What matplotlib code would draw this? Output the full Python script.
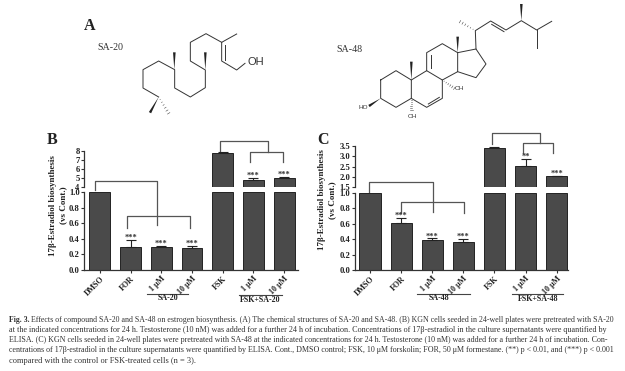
import numpy as np
import matplotlib
matplotlib.use("Agg")
from matplotlib import pyplot as plt
from matplotlib.patches import Polygon

W, H = 625, 371
SERIF = "Liberation Serif"

groups = ["DMSO", "FOR", "1 μM", "10 μM", "FSK", "1 μM", "10 μM"]
values_b = [1.0, 0.30, 0.29, 0.285, 7.85, 4.75, 5.05]
errors_b = [0.0, 0.085, 0.025, 0.025, 0.05, 0.25, 0.1]
stars_b = ["", "***", "***", "***", "", "***", "***"]

values_c = [1.0, 0.61, 0.385, 0.36, 3.4, 2.52, 2.03]
errors_c = [0.0, 0.06, 0.025, 0.04, 0.06, 0.37, 0.04]
stars_c = ["", "***", "***", "***", "", "**", "***"]

caption = [
    "Effects of compound SA-20 and SA-48 on estrogen biosynthesis. (A) The chemical structures of SA-20 and SA-48. (B) KGN cells seeded in 24-well plates were pretreated with SA-20",
    "at the indicated concentrations for 24 h. Testosterone (10 nM) was added for a further 24 h of incubation. Concentrations of 17β-estradiol in the culture supernatants were quantified by",
    "ELISA. (C) KGN cells seeded in 24-well plates were pretreated with SA-48 at the indicated concentrations for 24 h. Testosterone (10 nM) was added for a further 24 h of incubation. Con-",
    "centrations of 17β-estradiol in the culture supernatants were quantified by ELISA. Cont., DMSO control; FSK, 10 μM forskolin; FOR, 50 μM formestane. (**) p < 0.01, and (***) p < 0.001",
    "compared with the control or FSK-treated cells (n = 3).",
]

# structures, in zoomed pixels of the drawing
sa20_bonds = [[(525, 190), (500, 210), (455, 183), (455, 127), (500, 102)],
              [(455, 127), (408, 101), (361, 127), (361, 183), (406, 210), (406, 263), (361, 291),
               (314, 264), (314, 209), (266, 183), (219, 209), (219, 264), (266, 291)],
              [(466, 180), (466, 135)]]
sa20_wedges = [((406, 210), (406, 157)), ((313, 209), (313, 157)), ((266, 291), (240, 338))]
sa20_hashes = [((266, 291), (296, 340))]

sa48_bonds = [[(182, 240), (228, 212), (274, 240), (274, 295), (228, 322), (182, 295), (182, 240)],
              [(274, 240), (320, 212), (367, 240), (367, 295), (320, 322), (274, 295)],
              [(320, 212), (320, 158), (367, 131), (413, 158), (413, 215), (367, 240)],
              [(413, 158), (468, 147), (498, 192), (468, 233), (413, 215)],
              [(468, 147), (466, 92), (512, 63), (558, 90), (604, 62), (650, 90), (695, 64)],
              [(650, 90), (650, 143)],
              [(332, 165), (332, 205)], [(325, 312), (358, 292)], [(515, 73), (552, 95)]]
sa48_wedges = [((274, 240), (274, 185)), ((413, 158), (413, 110)), ((604, 62), (604, 12)),
               ((182, 295), (147, 318))]
sa48_hashes = [((466, 92), (420, 65)), ((274, 295), (274, 330)), ((367, 240), (403, 265))]


def draw_structure(ax, x0, y0, bonds, wedges, hashes):
    for b in bonds:
        p = np.array(b) / 3 + (x0, y0)
        ax.plot(p[:, 0], p[:, 1], color="#333333", lw=0.7)
    for a, b in wedges:
        a = np.array(a) / 3 + (x0, y0)
        b = np.array(b) / 3 + (x0, y0)
        d = b - a
        n = np.array([-d[1], d[0]]) / np.hypot(*d) * 1.3
        ax.add_patch(Polygon([a, b + n, b - n], color="#222222", lw=0))
    for a, b in hashes:
        a = np.array(a) / 3 + (x0, y0)
        b = np.array(b) / 3 + (x0, y0)
        d = b - a
        n = np.array([-d[1], d[0]]) / np.hypot(*d)
        for t in np.linspace(0.15, 1, 6):
            c = a + d * t
            ax.plot(*zip(c - n * t * 1.4, c + n * t * 1.4), color="#444444", lw=0.4)


def bracket(ax, x1, x2, y_top, y1, y2):
    ax.plot([x1, x1, x2, x2], [y1, y_top, y_top, y2], color="#555555", lw=0.9, clip_on=False)


def fit_text(t, width):
    # scale the font so the line fills the wanted pixel width
    w = t.get_window_extent(fig.canvas.get_renderer()).width
    t.set_fontsize(t.get_fontsize() * width / w)


def panel(left, right, base, one, brk_low, top, upper_lim, yticks_up, low_ticks, values, errors, stars, ticks_fmt, bar_l, bar_w, pitch):
    ax_lo = fig.add_axes([left / W, 1 - base / H, (right - left) / W, (base - one) / H])
    ax_up = fig.add_axes([left / W, 1 - brk_low / H, (right - left) / W, (brk_low - top) / H])
    x = [(bar_l + bar_w / 2 + pitch * i) for i in range(7)]
    for ax in (ax_lo, ax_up):
        ax.set_xlim(left, right)
        ax.patch.set_alpha(0)
        for s in ("top", "right"):
            ax.spines[s].set_visible(False)
        for s in ax.spines.values():
            s.set_linewidth(0.9)
            s.set_color("#333333")
        ax.tick_params(width=0.8, length=2.5, pad=1, color="#333333", labelsize=6.2, labelcolor="#222222")
    ax_lo.bar(x, np.minimum(values, 1.0), width=bar_w, color="#4a4a4a", edgecolor="#222222", lw=0.7)
    ax_lo.set_ylim(0, 1.0)
    ax_lo.set_yticks(low_ticks)
    ax_lo.set_yticklabels([f"{t:.1f}" for t in low_ticks], family=SERIF, weight="bold")
    up = [i for i, v in enumerate(values) if v > 1]
    ax_up.bar([x[i] for i in up], [values[i] - yticks_up[0] for i in up], bottom=yticks_up[0], width=bar_w,
              color="#4a4a4a", edgecolor="#222222", lw=0.7)
    ax_up.set_ylim(yticks_up[0], upper_lim)
    ax_up.set_yticks(yticks_up)
    ax_up.set_yticklabels([ticks_fmt.format(t) for t in yticks_up], family=SERIF, weight="bold")
    ax_up.spines["bottom"].set_visible(False)
    ax_up.set_xticks([])
    for i, v in enumerate(values):
        a = ax_up if v > 1 else ax_lo
        if errors[i] > 0:
            a.errorbar(x[i], v, yerr=[[0], [errors[i]]], color="#222222", lw=0.8, capsize=3.5, capthick=0.8)
        if stars[i]:
            a.annotate(stars[i], (x[i], v + errors[i]), xytext=(0, -1.5), textcoords="offset points",
                       ha="center", va="bottom", fontsize=6, family=SERIF, weight="bold", color="#333333")
    ax_lo.set_xticks(x)
    ax_lo.set_xticklabels(groups, rotation=45, ha="right", rotation_mode="anchor", fontsize=5.8,
                          family=SERIF, weight="bold")


fig = plt.figure(figsize=(W / 100, H / 100), dpi=100)
bg = fig.add_axes([0, 0, 1, 1])
bg.set_xlim(0, W)
bg.set_ylim(H, 0)
bg.axis("off")

# A
bg.text(84, 34, "A", fontsize=11.5, family=SERIF, weight="bold", va="bottom", color="#222222")
bg.text(97, 48, "SA-20", fontsize=7.2, family=SERIF, ha="left", va="center", color="#333333")
bg.text(336, 49, "SA-48", fontsize=7.2, family=SERIF, ha="left", va="center", color="#333333")
draw_structure(bg, 70, 0, sa20_bonds, sa20_wedges, sa20_hashes)
draw_structure(bg, 320, 0, sa48_bonds, sa48_wedges, sa48_hashes)
bg.text(248, 62, "OH", fontsize=8, family="Liberation Sans", va="center", color="#333333")
bg.text(358.5, 107.5, "HO", fontsize=4.6, family="Liberation Sans", va="center", color="#333333")
bg.text(413, 116, "OH", fontsize=4.6, family="Liberation Sans", ha="center", va="center", color="#333333")
bg.text(455, 89, "OH", fontsize=4.6, family="Liberation Sans", va="center", color="#333333")

# B
panel(84.5, 298, 270, 192.3, 187, 151.5, 8, [4, 5, 6, 7, 8], [0, 0.2, 0.4, 0.6, 0.8, 1.0],
      values_b, errors_b, stars_b, "{:d}", 89.5, 20.8, 30.7)
bg.text(47, 140, "B", fontsize=11.5, family=SERIF, weight="bold", va="center", color="#222222")
bg.text(58, 205.5, "17β-Estradiol biosynthesis\n(vs Cont.)", rotation=90, fontsize=6.5, family=SERIF, weight="bold",
        ha="center", va="center", color="#222222", linespacing=1.4)
bracket(bg, 95, 157, 180.7, 190, 225)
bracket(bg, 127, 190, 215.5, 228, 228)
bracket(bg, 219.5, 267.5, 141, 151, 152)
bracket(bg, 250, 282.5, 152, 162, 162)
bg.plot([147, 188], [294, 294], color="#444444", lw=0.8)
bg.text(168, 298.5, "SA-20", fontsize=5.8, family=SERIF, weight="bold", ha="center", va="center", color="#222222")
bg.plot([239, 282], [294.5, 294.5], color="#444444", lw=0.8)
bg.text(260, 299.5, "FSK+SA-20", fontsize=5.8, family=SERIF, weight="bold", ha="center", va="center", color="#222222")

# C
panel(355, 568, 270, 192.7, 187.3, 146, 3.5, [1.5, 2.0, 2.5, 3.0, 3.5], [0, 0.2, 0.4, 0.6, 0.8, 1.0],
      values_c, errors_c, stars_c, "{:.1f}", 359.5, 21.2, 31.1)
bg.text(317, 140, "C", fontsize=11.5, family=SERIF, weight="bold", va="center", color="#222222")
bg.text(327, 200, "17β-Estradiol biosynthesis\n(vs Cont.)", rotation=90, fontsize=6.5, family=SERIF, weight="bold",
        ha="center", va="center", color="#222222", linespacing=1.4)
bracket(bg, 368.5, 433, 182, 192, 212)
bracket(bg, 401, 464, 202, 213, 213)
bracket(bg, 492, 540, 133, 144, 143)
bracket(bg, 523, 553, 143, 153, 153)
bg.plot([417, 470], [294, 294], color="#444444", lw=0.8)
bg.text(439, 298.5, "SA-48", fontsize=5.8, family=SERIF, weight="bold", ha="center", va="center", color="#222222")
bg.plot([512, 563], [294, 294], color="#444444", lw=0.8)
bg.text(538, 299, "FSK+SA-48", fontsize=5.8, family=SERIF, weight="bold", ha="center", va="center", color="#222222")

# caption
bg.text(9, 320, "Fig. 3.", fontsize=5.6, family=SERIF, weight="bold", va="center", color="#333333")
line_y = [320, 330, 340, 350, 361]
line_x = [31, 9, 9, 9, 9]
line_end = [610, 610, 610, 610, 193]
for i, line in enumerate(caption):
    t = bg.text(line_x[i], line_y[i], line, fontsize=5.5, family=SERIF, va="center", color="#333333")
    fit_text(t, line_end[i] - line_x[i])

fig.savefig("out.png", dpi=100)
